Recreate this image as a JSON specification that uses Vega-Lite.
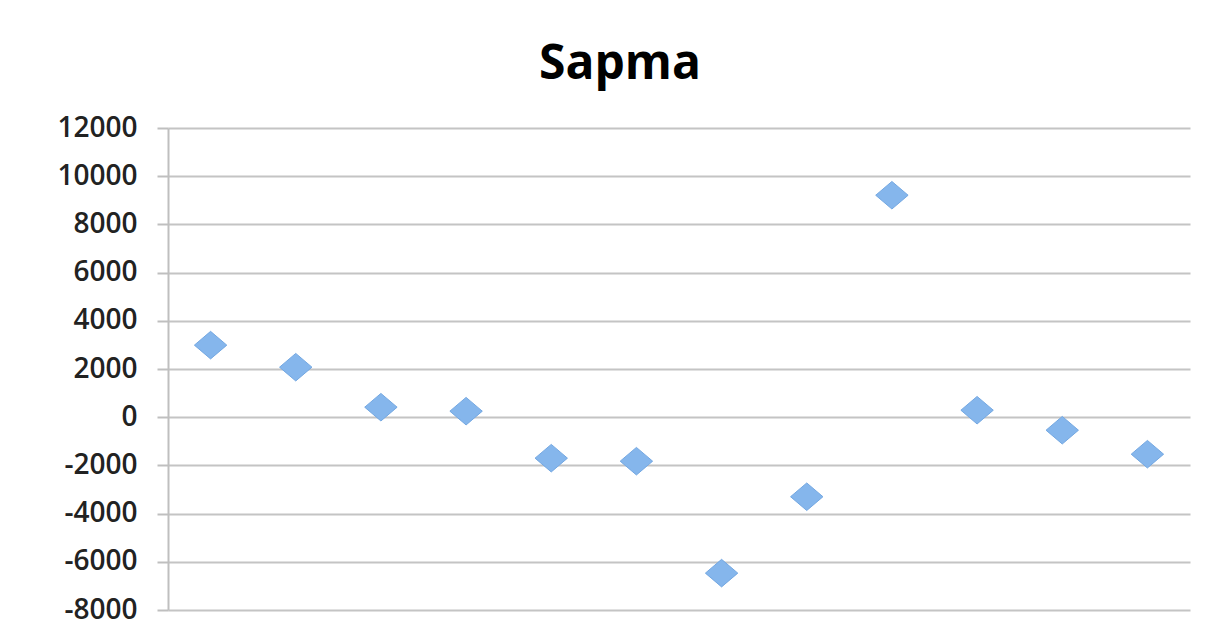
{
  "$schema": "https://vega.github.io/schema/vega-lite/v6.json",
  "autosize": "none",
  "width": 1022,
  "height": 482,
  "padding": {"left": 168, "top": 128, "right": 17, "bottom": 34},
  "background": "white",
  "title": {
    "text": "Sapma",
    "font": "Open Sans",
    "fontSize": 48,
    "fontWeight": "bold",
    "color": "#000000",
    "anchor": "middle",
    "frame": "group",
    "baseline": "alphabetic",
    "dx": -59,
    "dy": 47,
    "offset": 34
  },
  "data": {
    "values": [
      {"i": 1, "sapma": 2990},
      {"i": 2, "sapma": 2075},
      {"i": 3, "sapma": 415},
      {"i": 4, "sapma": 250},
      {"i": 5, "sapma": -1700},
      {"i": 6, "sapma": -1825},
      {"i": 7, "sapma": -6470},
      {"i": 8, "sapma": -3300},
      {"i": 9, "sapma": 9210},
      {"i": 10, "sapma": 290},
      {"i": 11, "sapma": -540},
      {"i": 12, "sapma": -1535}
    ]
  },
  "mark": {
    "type": "point",
    "shape": "M-1,0L0,-0.85L1,0L0,0.85Z",
    "size": 1050,
    "filled": true,
    "fill": "#85b6ec",
    "stroke": "#74a8e2",
    "strokeWidth": 1,
    "opacity": 1
  },
  "encoding": {
    "x": {
      "field": "i",
      "type": "ordinal",
      "scale": {"type": "band", "paddingInner": 0, "paddingOuter": 0},
      "axis": null
    },
    "y": {
      "field": "sapma",
      "type": "quantitative",
      "scale": {"domain": [-8000, 12000], "nice": false, "zero": false},
      "axis": {
        "title": null,
        "values": [-8000, -6000, -4000, -2000, 0, 2000, 4000, 6000, 8000, 10000, 12000],
        "labelExpr": "'' + datum.value",
        "labelFont": "Open Sans",
        "labelFontSize": 28,
        "labelFontWeight": 600,
        "labelColor": "#222222",
        "labelPadding": 20,
        "tickSize": 11,
        "tickColor": "#bfbfbf",
        "tickWidth": 2,
        "domainColor": "#bfbfbf",
        "domainWidth": 2,
        "grid": true,
        "gridColor": "#c4c4c4",
        "gridWidth": 2
      }
    }
  },
  "config": {
    "view": {"stroke": null}
  }
}
